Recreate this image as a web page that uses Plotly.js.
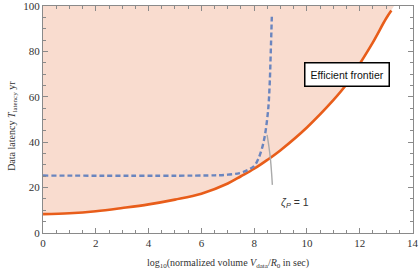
<!DOCTYPE html>
<html>
<head>
<meta charset="utf-8">
<script src="https://cdn.plot.ly/plotly-3.0.1.min.js"></script>
<style>html,body{margin:0;padding:0;background:#fff;}#chart{width:419px;height:274px;}</style>
</head>
<body>
<div id="chart"></div>
<script>
// Efficient frontier (orange)
const frontierX = [0, 1, 2, 3, 4, 5, 6, 7, 7.5, 8, 8.5, 9, 10, 11, 11.5, 12, 12.5, 13, 13.2];
const frontierY = [8.3, 8.7, 9.6, 11.0, 12.6, 14.7, 17.3, 21.8, 25.0, 28.3, 32.2, 36.5, 46.5, 58.5, 65.5, 74.5, 84.0, 94.5, 98.0];
// Point where frontier reaches the top of the chart
const frontierTopX = 13.3;
const yTop = 100;

// Dashed blue curve
const dashX = [0, 6.5, 7.0, 7.45, 7.8, 8.0, 8.15, 8.28, 8.4, 8.53, 8.59, 8.63, 8.67];
const dashY = [25.3, 25.4, 25.7, 26.4, 28.0, 29.5, 32.5, 36.6, 42.5, 54.2, 66.0, 80.0, 95.3];

// Gray curve zeta_P = 1
const zetaX = [8.49, 8.56, 8.62, 8.66, 8.69];
const zetaY = [43.2, 38.0, 32.2, 26.5, 21.2];

const xTickStep = 2;
const yTickStep = 20;

const fillX = frontierX.concat([frontierTopX, 0]);
const fillY = frontierY.concat([yTop, yTop]);

const traces = [
  {x: fillX, y: fillY, mode: 'lines', fill: 'toself', fillcolor: '#f9dccf',
   line: {width: 0, color: 'rgba(0,0,0,0)'}, hoverinfo: 'skip', showlegend: false},
  {x: frontierX, y: frontierY, mode: 'lines', line: {color: '#e85d1a', width: 2.6, shape: 'spline'}, showlegend: false},
  {x: dashX, y: dashY, mode: 'lines', line: {color: '#6a85bf', width: 2.4, dash: '5px,3px', shape: 'spline'}, showlegend: false},
  {x: zetaX, y: zetaY, mode: 'lines', line: {color: '#aaaaaa', width: 1.4, shape: 'spline'}, showlegend: false}
];

const axisCommon = {
  showgrid: false, zeroline: false, showline: true, linecolor: '#8a8a8a', linewidth: 1,
  mirror: 'allticks', ticks: 'inside', ticklen: 5, tickcolor: '#8a8a8a', tickwidth: 1,
  ticklabeloverflow: 'allow', automargin: false,
  tickfont: {family: 'Liberation Serif, serif', size: 11, color: '#333'}
};

const titleFont = {family: 'Liberation Serif, serif', size: 10, color: '#333'};

const layout = {
  width: 419, height: 274,
  margin: {l: 43, r: 6, t: 6, b: 41},
  paper_bgcolor: '#fff', plot_bgcolor: '#fff',
  xaxis: Object.assign({}, axisCommon, {
    range: [-0.002, 14.02], tickmode: 'linear', tick0: 0, dtick: xTickStep,
    minor: {dtick: 0.5, ticks: 'inside', ticklen: 3, tickcolor: '#8a8a8a', showgrid: false}
  }),
  yaxis: Object.assign({}, axisCommon, {
    range: [-0.01, 100.02], tickmode: 'linear', tick0: 0, dtick: yTickStep,
    minor: {dtick: 5, ticks: 'inside', ticklen: 3, tickcolor: '#8a8a8a', showgrid: false}
  }),
  annotations: [
    {x: 0.5, y: 0, xref: 'paper', yref: 'paper', yshift: -30, yanchor: 'middle', xanchor: 'center',
     text: 'log<sub>10</sub>(normalized volume <i>V</i><sub>data</sub>/<i>R</i><sub>0</sub> in sec)',
     showarrow: false, font: titleFont},
    {x: 0, y: 0.472, xref: 'paper', yref: 'paper', xshift: -30, xanchor: 'center', yanchor: 'middle',
     textangle: -90, text: 'Data latency <i>T</i><sub>latency</sub> yr', showarrow: false, font: titleFont},
    {x: 11.5, y: 70, xref: 'x', yref: 'y', text: 'Efficient frontier', showarrow: false,
     font: {family: 'Liberation Sans, Arial, sans-serif', size: 10.5, color: '#111'},
     bgcolor: '#fff', bordercolor: '#000', borderwidth: 1.5, borderpad: 5},
    {x: 9.54, y: 13, xref: 'x', yref: 'y', text: '<i>ζ<sub>P</sub></i> = 1', showarrow: false,
     font: {family: 'Liberation Sans, Arial, sans-serif', size: 10.5, color: '#333'}}
  ]
};

Plotly.newPlot('chart', traces, layout, {displayModeBar: false, staticPlot: true});
</script>
</body>
</html>
